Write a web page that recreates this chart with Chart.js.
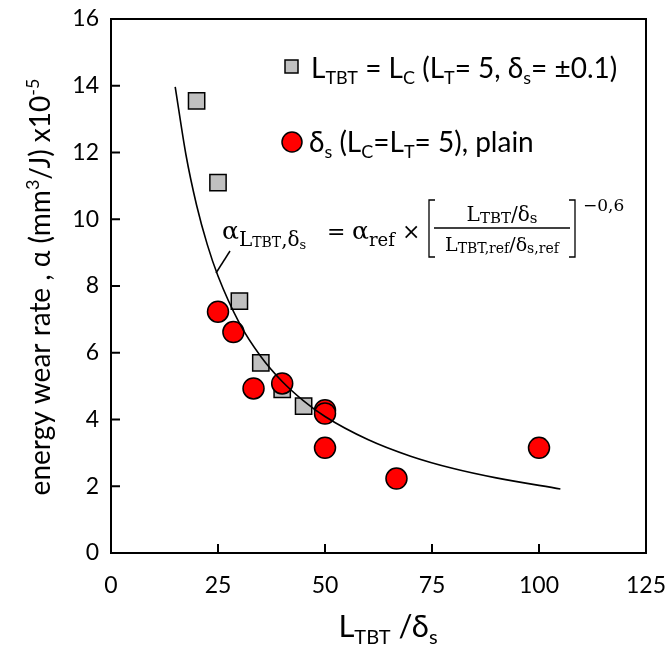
<!DOCTYPE html>
<html>
<head>
<meta charset="utf-8">
<script src="https://cdn.jsdelivr.net/npm/chart.js@4.4.1/dist/chart.umd.min.js"></script>
<style>
  html, body { margin: 0; padding: 0; background: #fff; overflow: hidden; }
  #wrap { width: 668px; height: 646px; position: relative; }
  #wrap canvas { display: block; }
</style>
</head>
<body>
<div id="wrap"><canvas id="wearChart"></canvas></div>
<script>
// L_TBT = L_C series (grey squares)
const squareX = [20, 25, 30, 35, 40, 45];
const squareY = [13.55, 11.1, 7.55, 5.7, 4.9, 4.4];
// delta_s series (red circles)
const circleX = [25, 28.6, 33.3, 40, 50, 50, 50, 66.7, 100];
const circleY = [7.23, 6.62, 4.93, 5.08, 4.28, 4.18, 3.15, 2.23, 3.15];
// fitted power-law curve
const curveX = [15, 17.5, 20, 22.5, 25, 30, 35, 40, 45, 50, 60, 70, 80, 90, 105];
const curveY = [13.97, 11.94, 10.42, 9.24, 8.3, 6.89, 5.89, 5.14, 4.56, 4.09, 3.4, 2.9, 2.53, 2.25, 1.92];
const xTicks = [0, 25, 50, 75, 100, 125];
const yTicks = [0, 2, 4, 6, 8, 10, 12, 14, 16];

const toPts = (xs, ys) => xs.map((x, i) => ({ x: x, y: ys[i] }));

const SANS = 'Lato, "Open Sans", sans-serif';
const SERIF = '"DejaVu Serif", "Liberation Serif", serif';

// draw text made of normal / sub / sup pieces
function drawRich(ctx, x, y, parts, size, family, align) {
  const fontOf = (m) => (m === 'n' ? size : Math.round(size * 0.65)) + 'px ' + family;
  let w = 0;
  parts.forEach(p => { ctx.font = fontOf(p[1]); w += ctx.measureText(p[0]).width; });
  let cx = align === 'center' ? x - w / 2 : x;
  ctx.textAlign = 'left';
  ctx.textBaseline = 'alphabetic';
  parts.forEach(p => {
    ctx.font = fontOf(p[1]);
    const dy = p[1] === 'sub' ? size * 0.22 : (p[1] === 'sup' ? -size * 0.4 : 0);
    ctx.fillText(p[0], cx, y + dy);
    cx += ctx.measureText(p[0]).width;
  });
  return w;
}

// draw pieces with explicit sizes and offsets
function drawPieces(ctx, x, y, pieces, family, align) {
  let w = 0;
  pieces.forEach(p => { ctx.font = p[1] + 'px ' + family; w += ctx.measureText(p[0]).width; });
  let cx = align === 'center' ? x - w / 2 : x;
  ctx.textAlign = 'left';
  ctx.textBaseline = 'alphabetic';
  pieces.forEach(p => {
    ctx.font = p[1] + 'px ' + family;
    ctx.fillText(p[0], cx, y + p[2]);
    cx += ctx.measureText(p[0]).width;
  });
}

const decorPlugin = {
  id: 'decor',
  afterDraw(chart) {
    const ctx = chart.ctx;
    const a = chart.chartArea;
    const xs = chart.scales.x, ys = chart.scales.y;
    ctx.save();
    ctx.fillStyle = '#000';
    ctx.strokeStyle = '#000';

    // frame
    ctx.lineWidth = 2;
    ctx.strokeRect(a.left, a.top, a.right - a.left, a.bottom - a.top);

    // inward tick marks
    xTicks.forEach(v => {
      const px = xs.getPixelForValue(v);
      ctx.beginPath(); ctx.moveTo(px, a.bottom); ctx.lineTo(px, a.bottom - 9); ctx.stroke();
    });
    yTicks.forEach(v => {
      const py = ys.getPixelForValue(v);
      ctx.beginPath(); ctx.moveTo(a.left, py); ctx.lineTo(a.left + 9, py); ctx.stroke();
    });

    // y axis title
    ctx.save();
    ctx.translate(50, 287);
    ctx.rotate(-Math.PI / 2);
    drawRich(ctx, 0, 0, [['energy wear rate , \u03b1 (mm', 'n'], ['3', 'sup'], ['/J) x10', 'n'], ['-5', 'sup']], 28, SANS, 'center');
    ctx.restore();

    // x axis title
    drawRich(ctx, 388, 637, [['L', 'n'], ['TBT', 'sub'], [' /\u03b4', 'n'], ['s', 'sub']], 31, SANS, 'center');

    // legend
    ctx.lineWidth = 1.5;
    ctx.fillStyle = '#c0c0c0';
    ctx.fillRect(285, 60, 13, 13);
    ctx.strokeRect(285, 60, 13, 13);
    ctx.fillStyle = '#000';
    drawRich(ctx, 311, 78, [['L', 'n'], ['TBT', 'sub'], [' = L', 'n'], ['C', 'sub'], [' (L', 'n'], ['T', 'sub'], ['= 5, \u03b4', 'n'], ['s', 'sub'], ['= \u00b10.1)', 'n']], 28, SANS, 'left');

    ctx.fillStyle = '#ff0000';
    ctx.beginPath(); ctx.arc(292, 142, 10, 0, Math.PI * 2); ctx.fill(); ctx.stroke();
    ctx.fillStyle = '#000';
    drawRich(ctx, 309, 152, [['\u03b4', 'n'], ['s', 'sub'], [' (L', 'n'], ['C', 'sub'], ['=L', 'n'], ['T', 'sub'], ['= 5), plain', 'n']], 28, SANS, 'left');

    // formula
    drawPieces(ctx, 222, 239, [['\u03b1', 25, 0], ['L', 20, 7], ['TBT', 14, 8], [',\u03b4', 20, 7], ['s', 13, 10]], SERIF, 'left');
    drawPieces(ctx, 327, 239, [['=', 22, 0]], SERIF, 'left');
    drawPieces(ctx, 352, 239, [['\u03b1', 25, 0], ['ref', 18, 7]], SERIF, 'left');
    drawPieces(ctx, 402, 239, [['\u00d7', 22, 0]], SERIF, 'left');
    drawPieces(ctx, 502, 221, [['L', 20, 0], ['TBT', 15, 2], ['/\u03b4', 20, 0], ['s', 15, 2]], SERIF, 'center');
    drawPieces(ctx, 502, 251, [['L', 19, 0], ['TBT,ref', 14, 2], ['/\u03b4', 19, 0], ['s,ref', 14, 2]], SERIF, 'center');
    ctx.lineWidth = 1.3;
    ctx.beginPath(); ctx.moveTo(434, 228); ctx.lineTo(570, 228); ctx.stroke();
    // brackets
    ctx.beginPath();
    ctx.moveTo(435, 200); ctx.lineTo(429, 200); ctx.lineTo(429, 257); ctx.lineTo(435, 257);
    ctx.moveTo(569, 200); ctx.lineTo(575, 200); ctx.lineTo(575, 257); ctx.lineTo(569, 257);
    ctx.stroke();
    drawPieces(ctx, 583, 211, [['\u22120,6', 17, 0]], SERIF, 'left');

    // leader from formula to curve
    ctx.lineWidth = 1.5;
    ctx.beginPath(); ctx.moveTo(230, 251); ctx.lineTo(216, 273); ctx.stroke();

    ctx.restore();
  }
};

new Chart(document.getElementById('wearChart'), {
  type: 'scatter',
  data: {
    datasets: [
      {
        label: 'fit',
        data: toPts(curveX, curveY),
        showLine: true,
        borderColor: '#000',
        borderWidth: 1.6,
        pointRadius: 0,
        cubicInterpolationMode: 'monotone',
        fill: false,
        order: 0
      },
      {
        label: '\u03b4s (LC=LT= 5), plain',
        data: toPts(circleX, circleY),
        pointStyle: 'circle',
        pointRadius: 10.5,
        backgroundColor: '#ff0000',
        borderColor: '#000',
        borderWidth: 1.5,
        order: 1
      },
      {
        label: 'LTBT = LC (LT= 5, \u03b4s= \u00b10.1)',
        data: toPts(squareX, squareY),
        pointStyle: 'rect',
        pointRadius: 11.5,
        backgroundColor: '#c0c0c0',
        borderColor: '#000',
        borderWidth: 1.5,
        order: 2
      }
    ]
  },
  options: {
    responsive: true,
    maintainAspectRatio: false,
    animation: false,
    layout: { autoPadding: false, padding: { top: 19, right: 22, left: 0, bottom: 0 } },
    plugins: { legend: { display: false }, tooltip: { enabled: false } },
    scales: {
      x: {
        type: 'linear',
        min: 0,
        max: 125,
        afterBuildTicks: (s) => { s.ticks = xTicks.map(v => ({ value: v })); },
        afterFit: (s) => { s.height = 93; s.paddingLeft = 0; s.paddingRight = 0; },
        ticks: { color: '#000', font: { family: SANS, size: 23 }, padding: 19 },
        grid: { display: false, drawTicks: false },
        border: { display: false }
      },
      y: {
        type: 'linear',
        min: 0,
        max: 16,
        afterBuildTicks: (s) => { s.ticks = yTicks.map(v => ({ value: v })); },
        afterFit: (s) => { s.width = 111; s.paddingTop = 0; s.paddingBottom = 0; },
        ticks: { color: '#000', font: { family: SANS, size: 23 }, padding: 12 },
        grid: { display: false, drawTicks: false },
        border: { display: false }
      }
    }
  },
  plugins: [decorPlugin]
});
</script>
</body>
</html>
